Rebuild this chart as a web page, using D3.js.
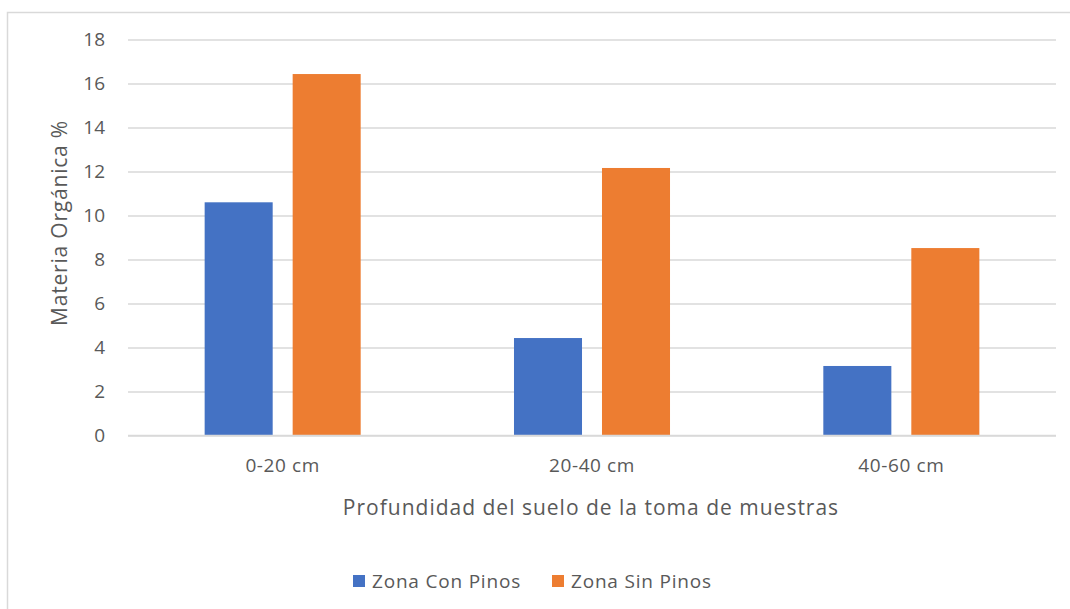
<!DOCTYPE html>
<html>
<head>
<meta charset="utf-8">
<script src="https://cdn.jsdelivr.net/npm/d3@7"></script>
<style>
  html, body { margin: 0; padding: 0; background: #fff; }
  svg { display: block; }
  text { font-family: "Open Sans", "Liberation Sans", sans-serif; fill: #595959; }
</style>
</head>
<body>
<svg id="chart" width="1070" height="609"></svg>
<script>
// Organic matter (%) by soil sampling depth
const categories = ["0-20 cm", "20-40 cm", "40-60 cm"];
const seriesNames = ["Zona Con Pinos", "Zona Sin Pinos"];
const conPinos = [10.6, 4.43, 3.16];
const sinPinos = [16.43, 12.16, 8.52];
const yTicks = [0, 2, 4, 6, 8, 10, 12, 14, 16, 18];
const colors = ["#4472C4", "#ED7D31"];

const values = [conPinos, sinPinos];
const W = 1070, H = 609;
const plot = { left: 128, right: 1056, top: 39.5, bottom: 435.5 };

const svg = d3.select("#chart");

// outer chart border (left and top edges visible)
svg.append("path")
  .attr("d", `M7.5,${H} V12.5 H${W}`)
  .attr("fill", "none")
  .attr("stroke", "#d9d9d9")
  .attr("stroke-width", 1.5);

const y = d3.scaleLinear().domain([0, 18]).range([plot.bottom, plot.top]);

const x0 = d3.scaleBand()
  .domain(categories)
  .range([plot.left, plot.right])
  .paddingInner(0.4956)
  .paddingOuter(0.2478);

const x1 = d3.scaleBand()
  .domain(seriesNames)
  .range([0, x0.bandwidth()])
  .paddingInner(0.227)
  .paddingOuter(0);

// gridlines and value labels
const yAxis = d3.axisLeft(y).tickValues(yTicks)
  .tickSize(-(plot.right - plot.left)).tickPadding(23);
const gy = svg.append("g")
  .attr("transform", `translate(${plot.left},0)`)
  .call(yAxis);
gy.select(".domain").remove();
gy.selectAll(".tick line").attr("stroke", "#d9d9d9").attr("stroke-width", 1.5);
gy.selectAll(".tick text")
  .style("font-size", "19px")
  .attr("fill", "#595959");

// bars
const groups = svg.append("g").selectAll("g")
  .data(categories)
  .join("g")
  .attr("transform", d => `translate(${x0(d)},0)`);

groups.selectAll("rect")
  .data((d, i) => seriesNames.map((s, j) => ({ s, v: values[j][i], j })))
  .join("rect")
  .attr("x", d => x1(d.s))
  .attr("width", x1.bandwidth())
  .attr("y", d => y(d.v))
  .attr("height", d => y(0) - y(d.v))
  .attr("fill", d => colors[d.j]);

// category axis
const xAxis = d3.axisBottom(x0).tickSize(0).tickPadding(23);
const gx = svg.append("g")
  .attr("transform", `translate(0,${plot.bottom})`)
  .call(xAxis);
gx.select(".domain").attr("stroke", "#d9d9d9").attr("stroke-width", 1.5)
  .attr("d", `M${plot.left},0H${plot.right}`);
gx.selectAll(".tick text")
  .style("font-size", "19px")
  .style("letter-spacing", "0.6px")
  .attr("fill", "#595959");

// axis titles
svg.append("text")
  .attr("x", 591).attr("y", 515)
  .attr("text-anchor", "middle")
  .style("font-size", "21px")
  .style("letter-spacing", "1px")
  .text("Profundidad del suelo de la toma de muestras");

svg.append("text")
  .attr("transform", "translate(67,223) rotate(-90)")
  .attr("text-anchor", "middle")
  .style("font-size", "21px")
  .style("letter-spacing", "0.8px")
  .text("Materia Orgánica %");

// legend
const legendX = [353, 552];
const legend = svg.append("g").selectAll("g")
  .data(seriesNames)
  .join("g")
  .attr("transform", (d, i) => `translate(${legendX[i]},575)`);
legend.append("rect")
  .attr("width", 12).attr("height", 12)
  .attr("fill", (d, i) => colors[i]);
legend.append("text")
  .attr("x", 19).attr("y", 13)
  .style("font-size", "19px")
  .style("letter-spacing", "0.8px")
  .text(d => d);
</script>
</body>
</html>
